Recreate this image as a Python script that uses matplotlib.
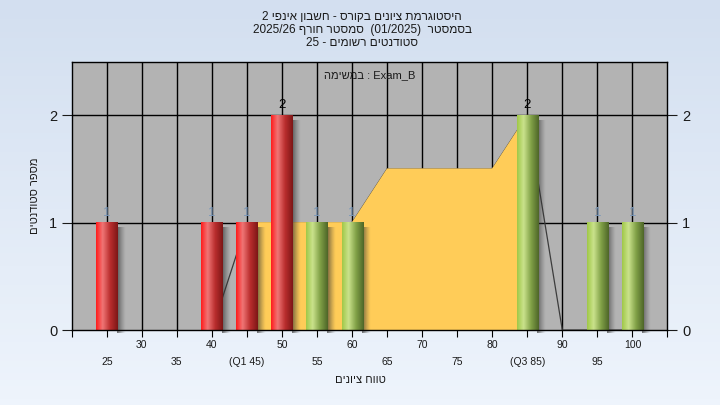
import numpy as np
import matplotlib
matplotlib.use("Agg")
import matplotlib.pyplot as plt
from matplotlib.transforms import blended_transform_factory

plt.rcParams['font.family'] = ['Liberation Sans', 'DejaVu Sans']

# data
grades = [25, 40, 45, 50, 55, 60, 85, 95, 100]
counts = [1, 1, 1, 2, 1, 1, 2, 1, 1]
pass_mark = 55

# yellow band between Q1 and Q3
band_x = [45, 50, 55, 60, 65, 70, 75, 80, 85]
band_y = [1, 1, 1, 1, 1.5, 1.5, 1.5, 1.5, 2]

# thin line series
line_x = [40, 45, 50, 55, 60, 65, 70, 75, 80, 85, 90, 95, 100]
line_y = [0, 1, 1, 1, 1, 1.5, 1.5, 1.5, 1.5, 2, 0, 0, 0]

tick_vals = list(range(25, 101, 5))
tick_text = {45: "(Q1 45)", 85: "(Q3 85)"}

course = "היסטוגרמת ציונים בקורס - חשבון אינפי"
course_no = "2"
sem_word = "בסמסטר"
sem_code = "(01/2025)"
sem_name = "סמסטר חורף"
sem_year = "2025/26"
students = "סטודנטים רשומים"
n_students = "25"
task_word = "במשימה"
task_name = "Exam_B"
xlab = "טווח ציונים"
ylab = "מספר סטודנטים"


def rtl(s):
    # matplotlib has no bidi, lay hebrew out by hand
    return s[::-1]


def grad(stops, n=64):
    pos = [p for p, c in stops]
    cols = np.array([c for p, c in stops]) / 255.0
    t = np.linspace(0, 1, n)
    out = np.stack([np.interp(t, pos, cols[:, k]) for k in range(3)], axis=1)
    return out[np.newaxis, :, :]


red_grad = grad([(0, (255, 28, 28)), (0.3, (240, 118, 118)), (0.65, (185, 45, 45)), (1, (125, 22, 22))])
green_grad = grad([(0, (160, 200, 72)), (0.3, (202, 226, 140)), (0.65, (128, 160, 70)), (1, (78, 102, 40))])

# shadow: dark fading to transparent, left to right
sh = np.zeros((1, 32, 4))
sh[..., 0:3] = 0.2
sh[0, :, 3] = np.linspace(0.75, 0.0, 32) ** 1.3

fig = plt.figure(figsize=(7.2, 4.05), dpi=100)

# background gradient
bg = fig.add_axes([0, 0, 1, 1], zorder=-10)
bg.imshow(grad([(0, (238, 244, 252)), (1, (211, 223, 240))]).transpose(1, 0, 2)[::-1],
          aspect='auto', extent=[0, 1, 0, 1])
bg.axis('off')

ax = fig.add_axes([0.0996, 0.185, 0.8274, 0.663])
ax.set_facecolor('#b3b3b3')

for g in tick_vals:
    ax.axvline(g, color='black', lw=1, zorder=1)
for v in [1, 2]:
    ax.axhline(v, color='black', lw=1, zorder=1)

ax.plot(line_x, line_y, color='#3c3c3c', lw=0.9, zorder=1.5)
ax.fill_between(band_x, 0, band_y, facecolor='#ffcc58', edgecolor='#ffcc58', lw=1.5, zorder=2)

w = 3.0
for g, c in zip(grades, counts):
    ax.imshow(sh, extent=[g + w / 2 - 0.1, g + w / 2 + 1.1, -0.03, c - 0.05], aspect='auto',
              zorder=2.5, interpolation='bilinear', clip_on=False)
    img = red_grad if g < pass_mark else green_grad
    ax.imshow(img, extent=[g - w / 2, g + w / 2, 0, c], aspect='auto', zorder=3, interpolation='bilinear')
    ax.annotate(str(c), (g, c), xytext=(0, 3), textcoords='offset points', ha='center', va='bottom',
                fontsize=9.5, color='black' if c > 1 else '#7896b8', zorder=4)

ax.set_xlim(20, 105)
ax.set_ylim(0, 2.5)

ax.set_xticks(list(range(20, 106, 5)))
ax.set_xticklabels([])
ax.tick_params(axis='x', direction='out', length=5, color='black')
trans = blended_transform_factory(ax.transData, fig.transFigure)
for g in tick_vals:
    lab = tick_text.get(g, str(g))
    yy = 1 - 345 / 405 if g % 10 == 0 else 1 - 362 / 405
    fig.text(g, yy, lab, transform=trans, ha='center', va='center', fontsize=7.5, color='#1a1a1a')

ax.set_yticks([0, 1, 2])
ax.tick_params(axis='y', direction='out', length=7, labelsize=10.5, colors='#1a1a1a',
               left=True, right=True, labelleft=True, labelright=True)
for s in ax.spines.values():
    s.set_color('black')
    s.set_linewidth(1)
    s.set_zorder(5)

fig.text(0.5, 1 - 380 / 405, rtl(xlab), ha='center', va='center', fontsize=8, color='#1a1a1a')
fig.text(0.049, 1 - 196 / 405, rtl(ylab), ha='center', va='center', rotation=90, fontsize=8, color='#1a1a1a')

t1 = course_no + " " + rtl(course)
t2 = sem_year + " " + rtl(sem_name) + "  " + sem_code + "  " + rtl(sem_word)
t3 = n_students + " - " + rtl(students)
fig.text(0.503, 1 - 17 / 405, t1, ha='center', va='center', fontsize=8.5, color='#1a1a1a')
fig.text(0.503, 1 - 30 / 405, t2, ha='center', va='center', fontsize=8.5, color='#1a1a1a')
fig.text(0.503, 1 - 43 / 405, t3, ha='center', va='center', fontsize=8.5, color='#1a1a1a')

ax.text(0.5, 0.95, rtl(task_word) + " : " + task_name, transform=ax.transAxes, ha='center', va='center',
        fontsize=8, color='#1a1a1a', zorder=5)

fig.savefig('out.png', dpi=100)
